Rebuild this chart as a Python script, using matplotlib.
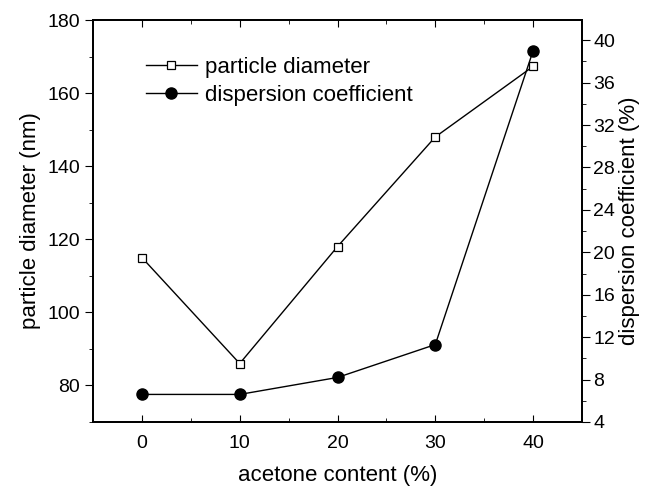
import matplotlib.pyplot as plt
from matplotlib.ticker import MultipleLocator

#---- data ----#
acetone = [0, 10, 20, 30, 40]
diameter = [115, 86, 118, 148, 167.3]
dispersion = [6.6, 6.6, 8.2, 11.3, 39.0]

plt.rcParams['font.family'] = ['Liberation Sans', 'DejaVu Sans']
plt.rcParams['font.size'] = 14

fig = plt.figure(figsize=(6.47, 4.87), dpi=100)
ax1 = fig.add_axes([93/647, 1-422/487, (582-93)/647, (422-20)/487])
ax2 = ax1.twinx()

l1, = ax1.plot(acetone, diameter, color='black', lw=1.0, marker='s', ms=6,
               mfc='white', mec='black', mew=0.9, label='particle diameter')
l2, = ax2.plot(acetone, dispersion, color='black', lw=1.0, marker='o', ms=8,
               mfc='black', mec='black', label='dispersion coefficient')

ax1.set_xlim(-5, 45)
ax1.set_ylim(70, 180)
ax2.set_ylim(4, 41.9)

ax1.xaxis.set_major_locator(MultipleLocator(10))
ax1.xaxis.set_minor_locator(MultipleLocator(5))
ax1.yaxis.set_major_locator(MultipleLocator(20))
ax1.yaxis.set_minor_locator(MultipleLocator(10))
ax2.yaxis.set_major_locator(MultipleLocator(4))
ax2.yaxis.set_minor_locator(MultipleLocator(2))

ax1.tick_params(axis='x', which='both', direction='in', top=True, labelsize=14, pad=9)
ax1.tick_params(axis='x', which='major', length=5)
ax1.tick_params(axis='x', which='minor', length=3)
ax1.tick_params(axis='y', which='major', direction='out', length=6, labelsize=14)
ax1.tick_params(axis='y', which='minor', direction='out', length=3)
ax2.tick_params(axis='y', which='major', direction='out', length=6, labelsize=14, pad=2)
ax2.tick_params(axis='y', which='minor', direction='out', length=3)

for ax in (ax1, ax2):
    for s in ax.spines.values():
        s.set_linewidth(1.3)

ax1.set_xlabel('acetone content (%)', fontsize=16, labelpad=10)
ax1.set_ylabel('particle diameter (nm)', fontsize=16, labelpad=4)
ax2.set_ylabel('dispersion coefficient (%)', fontsize=16, labelpad=3)

leg = ax1.legend(handles=[l1, l2], loc='upper left', bbox_to_anchor=(0.09, 0.93),
                 frameon=False, fontsize=16, handlelength=2.3, handletextpad=0.35,
                 labelspacing=0.3, borderaxespad=0)

fig.savefig('out.png', dpi=100)
